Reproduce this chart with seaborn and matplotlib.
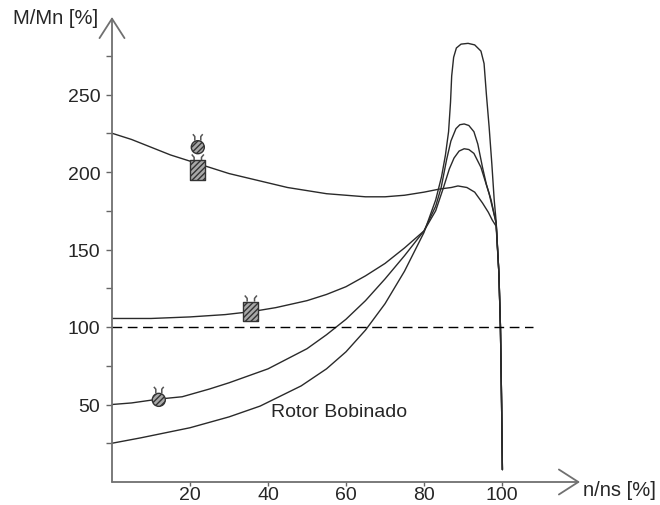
import numpy as np
import matplotlib
matplotlib.use("Agg")
import matplotlib.pyplot as plt
import seaborn as sns
from matplotlib.path import Path
from matplotlib.markers import MarkerStyle

# curvas de conjugado x rotação
tail_x = [99.2, 99.6, 99.9, 100.1]
tail_y = [135, 100, 50, 8]

x_a = [0, 5, 10, 15, 20, 25, 30, 35, 40, 45, 50, 55, 60, 65, 70, 75, 80, 84,
       87, 88.7, 91, 93, 95, 96.5, 97.5, 98.5] + tail_x
y_a = [225, 221, 216, 211, 207, 203, 199, 196, 193, 190, 188, 186, 185, 184,
       184, 185, 187, 189, 190, 191, 190, 187, 180, 174, 169, 165] + tail_y

x_b = [0, 10, 20, 29, 36, 42, 50, 55, 60, 65, 70, 75, 80, 83, 84.4, 85.8,
       86.9, 88.2, 89.2, 90.3, 91.5, 92.8, 93.8, 95, 96, 97.2, 98.5] + tail_x
y_b = [105.5, 105.5, 106.5, 108, 110, 112.5, 117, 121, 126, 133, 141, 151,
       162, 178, 190, 208, 220, 228, 230.5, 231, 230, 226, 218, 203, 192,
       182, 167] + tail_y

x_c = [0, 5, 12, 18, 25, 30, 40, 50, 55, 60, 65, 70, 75, 80, 83, 85, 86.5,
       87.7, 89, 90.3, 91.5, 92.8, 94.6, 96.7, 98.5] + tail_x
y_c = [50, 51, 53.5, 55, 60, 64, 73, 86, 95, 105, 117, 131, 146, 162, 175,
       190, 202, 209, 213.5, 215, 214.5, 212, 203, 186, 167] + tail_y

x_d = [0, 7.4, 20, 30, 38, 48.5, 55, 60, 65, 70, 75, 80, 83, 84.5, 85.5,
       86.3, 86.8, 87.1, 87.6, 88.3, 89.5, 91.3, 93, 94.6, 95.4, 96, 96.7,
       97.4, 98, 98.5] + tail_x
y_d = [25, 28.5, 35, 42, 49, 62, 73, 84, 98, 115, 136, 161, 182, 197, 211,
       226, 245, 262, 274, 280, 282.5, 283, 282, 278, 270, 250, 229, 205,
       182, 168] + tail_y

# marcadores
circ_x = [22, 12]
circ_y = [216, 53]
sq_x = [22, 35.6]
sq_y = [201, 110]

ref_x = [0, 108]
ref_y = [100, 100]

x_ticks = [20, 40, 60, 80, 100]
y_ticks = [50, 100, 150, 200, 250]
y_minor = [25, 75, 125, 175, 225, 275]

sns.set_style("white")
plt.rcParams["font.family"] = ["Liberation Sans", "DejaVu Sans"]
plt.rcParams["hatch.color"] = "#333333"
plt.rcParams["hatch.linewidth"] = 1.0

fig = plt.figure(figsize=(6.6, 5.06), dpi=100)
ax = fig.add_axes([112 / 660, 23 / 506, 468 / 660, 465 / 506])

line_kw = dict(color="#2a2a2a", lw=1.0, sort=False, estimator=None, ax=ax)
for xs, ys in [(x_a, y_a), (x_b, y_b), (x_c, y_c), (x_d, y_d)]:
    sns.lineplot(x=xs, y=ys, **line_kw)

sns.lineplot(x=ref_x, y=ref_y, color="black", lw=1.0, ls=(0, (7, 4)), ax=ax)

# antena dos marcadores
def antenna(bottom):
    verts = [(-0.23, bottom), (-0.23, 0.82), (-0.38, 1.0),
             (0.23, bottom), (0.23, 0.82), (0.38, 1.0)]
    codes = [Path.MOVETO, Path.LINETO, Path.LINETO,
             Path.MOVETO, Path.LINETO, Path.LINETO]
    return MarkerStyle(Path(verts, codes))

rect = MarkerStyle(Path([(-0.37, -0.5), (0.37, -0.5), (0.37, 0.5),
                         (-0.37, 0.5), (-0.37, -0.5)], closed=True))

ax.scatter(sq_x, sq_y, marker=antenna(0.62), s=530, facecolors="none",
           edgecolors="#555555", linewidths=1.1, zorder=3)
sq = ax.scatter(sq_x, sq_y, marker=rect, s=207, facecolor="#a8a8a8",
                edgecolor="#333333", linewidths=1.0, zorder=4)
sq.set_hatch("//////")
ax.scatter(circ_x, circ_y, marker=antenna(0.5), s=350, facecolors="none",
           edgecolors="#555555", linewidths=1.1, zorder=5)
ci = ax.scatter(circ_x, circ_y, marker="o", s=88, facecolor="#a8a8a8",
                edgecolor="#333333", linewidths=1.0, zorder=6)
ci.set_hatch("//////")

ax.text(40.8, 45.6, "Rotor Bobinado", fontsize=14, va="center", ha="left")

ax.set_xlim(0, 120)
ax.set_ylim(0, 300)
for s in ax.spines.values():
    s.set_visible(False)
ax.set_xticks(x_ticks)
ax.set_yticks(y_ticks)
ax.set_yticks(y_minor, minor=True)
ax.tick_params(axis="both", which="both", direction="out", color="#666666",
               width=1.0, labelsize=14, left=True, bottom=True)
ax.tick_params(axis="y", which="both", length=4, pad=4.5)
ax.tick_params(axis="x", length=3, pad=0)

arrow = dict(arrowstyle="->,head_length=1.4,head_width=0.9", color="#707070",
             lw=1.3, shrinkA=0, shrinkB=0)
ax.annotate("", xy=(0, 1), xytext=(0, 0), xycoords="axes fraction",
            arrowprops=arrow, annotation_clip=False)
ax.annotate("", xy=(1, 0), xytext=(0, 0), xycoords="axes fraction",
            arrowprops=arrow, annotation_clip=False)

ax.text(-0.03, 0.998, "M/Mn [%]", transform=ax.transAxes, fontsize=14.5,
        ha="right", va="center")
ax.text(1.006, -0.017, "n/ns [%]", transform=ax.transAxes, fontsize=14.5,
        ha="left", va="center")

fig.savefig("out.png", dpi=100)
